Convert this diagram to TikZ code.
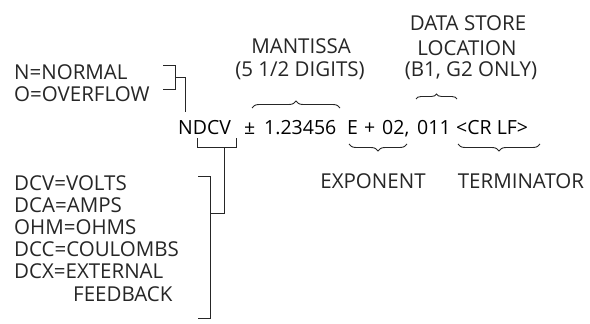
\documentclass[tikz,border=0pt]{standalone}
\usepackage{fontspec}
\setmainfont{Open Sans}
\usetikzlibrary{decorations.pathreplacing}
\begin{document}
\begin{tikzpicture}[x=1pt,y=-1pt,
  txt/.style={inner sep=0pt, font=\fontsize{20.5}{24}\selectfont\color{black!85}},
  lbl/.style={txt, anchor=west},
  part/.style={txt, anchor=base west, font=\fontsize{19.5}{24}\selectfont},
  bline/.style={line width=0.9pt, black!85},
  brc/.style={line width=0.9pt, black!85, decorate, decoration={brace, amplitude=7pt}}]
\useasboundingbox (0,0) rectangle (590,324);
% left labels
\node[lbl] (nn) at (14,72) {N=NORMAL};
\node[lbl] (oo) at (14,94) {O=OVERFLOW};
\node[lbl] (l1) at (14,183) {DCV=VOLTS};
\node[lbl] (l2) at (14,205) {DCA=AMPS};
\node[lbl] (l3) at (14,227) {OHM=OHMS};
\node[lbl] (l4) at (14,249) {DCC=COULOMBS};
\node[lbl] (l5) at (14,271) {DCX=EXTERNAL};
\node[lbl] (l6) at (73,294) {FEEDBACK};
% main line
\node[part] (ndcv) at (178,134) {NDCV};
\node[part] (pm) at (244,134) {±};
\node[part] (mant) at (264,134) {1.23456};
\node[part] (ee) at (347,134) {E};
\node[part] (pl) at (364,134) {+};
\node[part] (expo) at (382,134) {02,};
\node[part] (store) at (417,134) {011};
\node[part] (term) at (456,134) {<CR LF>};
% top labels
\node[txt] (m1) at (301,46) {MANTISSA};
\node[txt] (m2) at (300,71) {(5 1/2 DIGITS)};
\node[txt] (d1) at (468,23) {DATA STORE};
\node[txt] (d2) at (467,48) {LOCATION};
\node[txt] (d3) at (471,71) {(B1, G2 ONLY)};
\node[txt] (ex) at (373,181) {EXPONENT};
\node[txt] (tm) at (521,181) {TERMINATOR};
% braces
\draw[brc] (252,108) -- (340,108);
\draw[brc, decoration={amplitude=5pt}] (416,99) -- (457,99);
\draw[brc] (407,144) -- (349,144);
\draw[brc] (540,144) -- (458,144);
% N/O bracket
\coordinate (nb) at (185,112);
\draw[bline] (163,65) -- (175,65) -- (175,89) -- (163,89);
\draw[bline] (175,77) -- (185,77) -- (nb);
% DCV bracket
\draw[bline] (197,138) -- (197,147) -- (236,147) -- (236,138);
\draw[bline] (224,147) -- (224,213) -- (210,213);
\draw[bline] (198,176) -- (210,176) -- (210,318) -- (198,318);
\end{tikzpicture}
\end{document}
